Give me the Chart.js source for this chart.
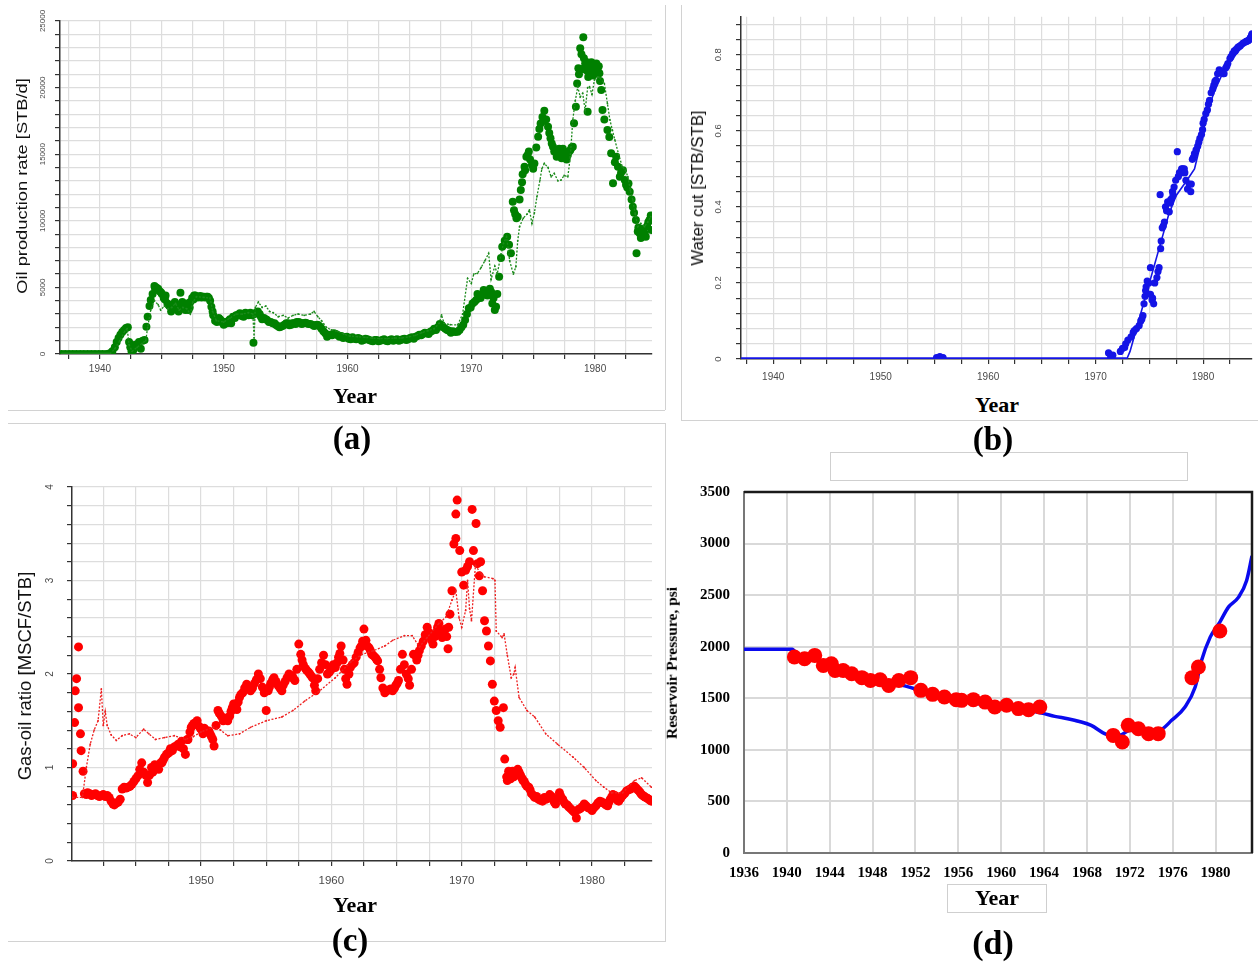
<!DOCTYPE html>
<html>
<head>
<meta charset="utf-8">
<title>Reservoir history: oil rate, water cut, GOR and pressure</title>
<script src="https://cdn.jsdelivr.net/npm/chart.js"></script>
<style>
  html, body { margin: 0; padding: 0; background: #fff; }
  #page { position: relative; width: 1260px; height: 963px; overflow: hidden; background: #fff; }
  .holder { position: absolute; }
  .holder canvas { display: block; }
  .t { position: absolute; white-space: nowrap; line-height: 1; transform: translate(-50%, -50%); }
  .sans { font-family: 'Liberation Sans', Arial, sans-serif; color: #111; }
  .serif { font-family: 'Liberation Serif', 'Times New Roman', serif; font-weight: bold; color: #000; }
  .rule { position: absolute; background: #d2d2d2; }
  .frame { position: absolute; border: 1px solid #cfcfcf; box-sizing: border-box; background: #fff; }
</style>
</head>
<body>
<div id="page">
  <div class="rule" style="left:8px;top:410px;width:657px;height:1px"></div>
  <div class="rule" style="left:665px;top:5px;width:1px;height:405px"></div>
  <div class="rule" style="left:681px;top:5px;width:1px;height:415px"></div>
  <div class="rule" style="left:681px;top:420px;width:577px;height:1px"></div>
  <div class="rule" style="left:8px;top:423px;width:657px;height:1px"></div>
  <div class="rule" style="left:665px;top:423px;width:1px;height:519px"></div>
  <div class="rule" style="left:8px;top:941px;width:657px;height:1px"></div>
  <div class="frame" style="left:830px;top:452px;width:358px;height:29px"></div>
  <div class="frame" style="left:947px;top:884px;width:100px;height:29px"></div>

  <div id="panelA" class="holder"></div>
  <div id="panelB" class="holder"></div>
  <div id="panelC" class="holder"></div>
  <div id="panelD" class="holder"></div>

  <div class="t sans" style="left:21px;top:186px;font-size:15px;transform:translate(-50%,-50%) rotate(-90deg) scaleX(1.22)">Oil production rate [STB/d]</div>
  <div class="t serif" style="left:355px;top:396px;font-size:22px">Year</div>
  <div class="t serif" style="left:352px;top:438px;font-size:33px">(a)</div>

  <div class="t sans" style="left:698px;top:188px;font-size:16px;transform:translate(-50%,-50%) rotate(-90deg) scaleX(1.05)">Water cut [STB/STB]</div>
  <div class="t serif" style="left:997px;top:405px;font-size:22px">Year</div>
  <div class="t serif" style="left:993px;top:439px;font-size:33px">(b)</div>

  <div class="t sans" style="left:25px;top:676px;font-size:18.5px;transform:translate(-50%,-50%) rotate(-90deg)">Gas-oil ratio [MSCF/STB]</div>
  <div class="t serif" style="left:355px;top:905px;font-size:22px">Year</div>
  <div class="t serif" style="left:350px;top:940px;font-size:33px">(c)</div>

  <div class="t serif" style="left:672px;top:663px;font-size:14.5px;transform:translate(-50%,-50%) rotate(-90deg) scaleX(1.07)">Reservoir Pressure, psi</div>
  <div class="t serif" style="left:997px;top:898px;font-size:22px">Year</div>
  <div class="t serif" style="left:993px;top:943px;font-size:34px">(d)</div>
</div>

<script>
// Oil production rate, STB/d: field observations [year, rate]
const oilObserved = [
  [1936.9,0],[1937.2,0],[1937.5,0],[1937.8,0],[1938.1,0],[1938.4,0],[1938.7,0],[1939.0,0],[1939.3,0],[1939.6,0],[1939.9,0],[1940.2,0],[1940.5,0],
  [1940.8,50],[1941.0,200],[1941.2,500],[1941.35,900],[1941.5,1200],[1941.65,1450],[1941.8,1650],[1941.95,1800],[1942.1,1950],[1942.25,2000],
  [1942.35,900],[1942.45,500],[1942.55,200],[1942.7,300],[1942.85,700],[1943.0,600],[1943.15,900],[1943.3,400],[1943.45,1000],[1943.6,1050],
  [1943.75,2050],[1943.85,2800],[1944.0,3600],[1944.1,4050],[1944.25,4500],[1944.4,5100],[1944.45,4900],[1944.55,5000],[1944.65,4800],
  [1944.7,4900],[1944.85,4700],[1944.95,4600],[1945.0,4500],[1945.15,4200],[1945.25,4100],[1945.3,4400],[1945.45,3800],[1945.55,3700],
  [1945.6,3600],[1945.75,3200],[1945.85,3400],[1945.9,3550],[1946.05,3900],[1946.15,3500],[1946.2,3700],[1946.35,3200],[1946.45,3600],
  [1946.5,4600],[1946.65,3900],[1946.75,3700],[1946.8,3500],[1946.9,3300],[1947.0,3800],[1947.1,3600],[1947.15,3300],[1947.25,3500],
  [1947.3,3900],[1947.45,4200],[1947.55,4100],[1947.6,4400],[1947.7,4400],[1947.8,4300],[1947.9,4250],[1948.0,4300],[1948.1,4350],
  [1948.2,4250],[1948.3,4300],[1948.4,4300],[1948.5,4250],[1948.6,4300],[1948.7,4300],[1948.8,4200],[1948.9,4000],[1949.0,3550],
  [1949.1,3200],[1949.15,2900],[1949.3,2500],[1949.45,2400],[1949.6,2700],[1949.7,2600],[1949.8,2500],[1949.9,2350],[1950.0,2200],
  [1950.1,2400],[1950.25,2300],[1950.4,2500],[1950.5,2600],[1950.6,2300],[1950.75,2800],[1950.9,2700],[1951.0,2900],[1951.15,2950],
  [1951.3,3050],[1951.45,2850],[1951.6,2800],[1951.75,3100],[1951.9,3000],[1952.0,2900],[1952.15,3100],[1952.3,2900],[1952.4,850],
  [1952.5,3000],[1952.6,3100],[1952.75,3200],[1952.9,3000],[1953.0,2800],[1953.1,2600],[1953.25,2700],[1953.4,2600],[1953.5,2550],
  [1953.65,2400],[1953.8,2400],[1953.95,2300],[1954.1,2300],[1954.2,2200],[1954.35,2100],[1954.5,2000],[1954.6,2050],[1954.75,2100],
  [1954.9,2200],[1955.05,2300],[1955.2,2300],[1955.3,2150],[1955.45,2200],[1955.55,2300],[1955.65,2300],[1955.8,2250],[1955.9,2400],
  [1956.05,2400],[1956.2,2350],[1956.3,2250],[1956.45,2300],[1956.6,2350],[1956.7,2300],[1956.85,2250],[1957.0,2250],[1957.15,2200],
  [1957.3,2100],[1957.4,2150],[1957.55,2200],[1957.65,2150],[1957.8,2050],[1957.9,1900],[1958.05,1700],[1958.2,1550],[1958.35,1300],
  [1958.6,1450],[1958.75,1400],[1958.9,1550],[1959.05,1500],[1959.2,1400],[1959.35,1300],[1959.5,1350],[1959.65,1200],[1959.8,1250],
  [1959.95,1300],[1960.1,1150],[1960.25,1100],[1960.4,1250],[1960.55,1150],[1960.7,1100],[1960.85,1200],[1961.0,1150],[1961.15,1000],
  [1961.3,1050],[1961.45,1150],[1961.6,1100],[1961.75,1050],[1961.9,1000],[1962.05,950],[1962.2,1050],[1962.35,1050],[1962.5,950],
  [1962.65,1000],[1962.8,1050],[1962.95,1100],[1963.1,1000],[1963.25,950],[1963.4,1050],[1963.55,1100],[1963.7,1000],[1963.85,1050],
  [1964.0,1100],[1964.15,1000],[1964.3,1050],[1964.45,1100],[1964.6,1150],[1964.75,1050],[1964.9,1100],[1965.05,1200],[1965.2,1250],
  [1965.35,1150],[1965.5,1300],[1965.65,1350],[1965.8,1450],[1965.95,1400],[1966.1,1500],[1966.25,1600],[1966.4,1550],[1966.55,1500],
  [1966.7,1670],[1966.85,1750],[1967.0,1900],[1967.15,1800],[1967.3,2000],[1967.45,2250],[1967.6,2180],[1967.75,2000],[1967.9,1900],
  [1968.05,1800],[1968.2,1750],[1968.35,1600],[1968.5,1700],[1968.7,1650],[1968.9,1670],[1969.05,1800],[1969.2,2000],[1969.35,2200],
  [1969.5,2550],[1969.65,3000],[1969.8,3430],[1969.95,3500],[1970.1,3800],[1970.25,3900],[1970.4,4050],[1970.5,4500],[1970.65,4300],
  [1970.75,4200],[1970.9,4430],[1971.0,4800],[1971.15,4600],[1971.3,4400],[1971.4,4700],[1971.5,4900],[1971.6,4680],[1971.7,3800],
  [1971.8,4200],[1971.9,3300],[1972.0,3550],[1972.1,4500],[1972.25,5800],[1972.4,7200],[1972.5,8050],[1972.7,8500],[1972.9,8800],
  [1973.05,8200],[1973.2,7560],[1973.35,11430],[1973.45,10800],[1973.55,10500],[1973.65,10200],[1973.75,10310],[1973.9,11600],
  [1974.0,12310],[1974.1,12900],[1974.15,13500],[1974.3,14060],[1974.35,13800],[1974.45,14800],[1974.55,14940],[1974.65,15200],
  [1974.75,14600],[1974.9,14200],[1975.0,13900],[1975.1,14310],[1975.25,15500],[1975.4,16310],[1975.5,16900],[1975.6,17300],
  [1975.75,17800],[1975.85,17500],[1975.9,18270],[1976.05,17600],[1976.2,17070],[1976.3,16600],[1976.4,16200],[1976.5,15800],
  [1976.6,15560],[1976.7,15200],[1976.8,15300],[1976.9,14800],[1977.0,15100],[1977.1,15400],[1977.2,15000],[1977.3,14700],
  [1977.4,15400],[1977.5,15000],[1977.6,15100],[1977.7,14600],[1977.8,14940],[1977.9,15200],[1978.0,15300],[1978.1,15500],
  [1978.2,15560],[1978.3,17320],[1978.45,18570],[1978.55,20300],[1978.65,21450],[1978.7,21000],[1978.8,22950],[1978.9,22500],
  [1978.95,21400],[1979.05,23780],[1979.1,22200],[1979.2,21800],[1979.3,21300],[1979.35,21900],[1979.4,18190],[1979.45,20800],
  [1979.5,21320],[1979.6,21600],[1979.7,21900],[1979.75,21200],[1979.85,20900],[1979.95,21570],[1980.0,21200],[1980.1,21800],
  [1980.2,21300],[1980.3,21600],[1980.35,21070],[1980.4,20500],[1980.5,19820],[1980.6,18320],[1980.75,17600],[1981.0,16820],
  [1981.15,16300],[1981.3,15070],[1981.45,12810],[1981.6,14400],[1981.7,14800],[1981.85,14060],[1982.0,13300],[1982.1,13600],
  [1982.25,13800],[1982.4,13060],[1982.5,12700],[1982.6,12500],[1982.7,12800],[1982.8,12190],[1982.95,11600],[1983.05,11060],
  [1983.15,10600],[1983.3,10060],[1983.35,7560],[1983.45,9200],[1983.5,9500],[1983.6,9060],[1983.7,8700],[1983.8,8800],[1983.9,9400],
  [1984.0,9060],[1984.1,8800],[1984.2,9600],[1984.3,9900],[1984.4,10060],[1984.5,10400],[1984.55,9300]
];

// Oil production rate, STB/d: model run [year, rate]
const oilSimulated = [
  [1936.9,0],[1940.8,0],[1941.2,400],[1941.6,1000],[1942.0,1700],[1942.2,1900],[1942.35,700],[1942.6,200],[1943.0,500],[1943.4,800],
  [1943.7,1000],[1943.85,2000],[1944.1,3300],[1944.4,4000],[1944.7,3700],[1944.9,3300],[1945.2,3600],[1945.5,3400],[1945.8,3500],
  [1946.1,3800],[1946.4,3300],[1946.7,3500],[1947.0,3400],[1947.3,3000],[1947.5,3900],[1947.8,4300],[1948.4,4250],[1948.9,4200],
  [1949.1,3200],[1949.4,2500],[1950.0,2400],[1950.5,2700],[1951.0,3000],[1951.5,3000],[1952.0,3100],[1952.35,3000],[1952.45,1200],
  [1952.55,3500],[1952.8,3900],[1953.1,3500],[1953.4,3600],[1953.7,3200],[1954.0,3100],[1954.4,2800],[1954.8,2900],[1955.2,2700],
  [1955.6,2900],[1956.0,3000],[1956.5,2900],[1957.0,3000],[1957.3,3200],[1957.6,2800],[1957.9,2500],[1958.3,2000],[1958.7,1800],
  [1959.2,1700],[1959.7,1500],[1960.2,1350],[1960.8,1300],[1961.4,1250],[1962.0,1200],[1962.6,1150],[1963.2,1150],[1963.8,1200],
  [1964.4,1200],[1965.0,1300],[1965.5,1400],[1966.0,1600],[1966.5,1750],[1967.0,1900],[1967.4,2300],[1967.6,2930],[1967.8,2300],
  [1968.3,2200],[1968.9,2180],[1969.3,3000],[1969.7,5680],[1970.0,5300],[1970.2,6000],[1970.5,6060],[1970.8,6500],[1971.1,7000],
  [1971.4,7560],[1971.6,5600],[1971.9,6600],[1972.1,6000],[1972.4,7500],[1972.6,8300],[1972.85,8800],[1973.1,7000],[1973.4,6000],
  [1973.6,6550],[1973.75,8500],[1973.9,9560],[1974.2,10200],[1974.5,10500],[1974.7,10810],[1974.9,9800],[1975.1,10600],[1975.3,11800],
  [1975.55,13060],[1975.7,13900],[1975.9,14310],[1976.2,14000],[1976.45,13300],[1976.7,13560],[1977.0,13000],[1977.25,13060],
  [1977.5,13400],[1977.8,13300],[1978.0,14800],[1978.2,17570],[1978.4,19000],[1978.6,20070],[1978.8,19300],[1979.0,19570],
  [1979.2,18300],[1979.4,20000],[1979.55,20070],[1979.75,19500],[1979.95,20570],[1980.3,20800],[1980.75,20320],[1981.0,18800],
  [1981.2,17570],[1981.4,16800],[1981.6,16070],[1981.9,15000],[1982.2,14060],[1982.45,13800],[1982.65,13310],[1982.85,12300],
  [1983.05,11560],[1983.25,10500],[1983.45,9560],[1983.7,9800],[1984.0,9560],[1984.25,9900],[1984.5,10310]
];

// Water cut, STB/STB: field observations [year, fraction]
const wcutObserved = [
  [1955.2,0.004],[1955.5,0.006],[1955.8,0.004],
  [1971.2,0.016],[1971.4,0.006],[1971.6,0.01],[1972.3,0.02],[1972.5,0.028],[1972.7,0.03],[1972.8,0.04],[1973.0,0.05],[1973.3,0.058],
  [1973.5,0.07],[1973.6,0.075],[1973.8,0.08],[1974.05,0.088],[1974.2,0.1],[1974.3,0.105],[1974.4,0.114],[1974.5,0.145],[1974.6,0.165],
  [1974.65,0.18],[1974.7,0.19],[1974.8,0.205],[1974.95,0.2],[1975.1,0.17],[1975.25,0.155],[1975.3,0.16],[1975.4,0.145],[1975.1,0.24],
  [1975.5,0.2],[1975.7,0.214],[1975.8,0.23],[1975.9,0.24],[1976.05,0.29],[1976.1,0.31],[1976.2,0.345],[1976.3,0.35],[1976.4,0.36],
  [1976.0,0.432],[1976.5,0.4],[1976.6,0.39],[1976.7,0.413],[1976.85,0.387],[1976.95,0.41],[1977.0,0.42],[1977.15,0.44],[1977.2,0.43],
  [1977.3,0.452],[1977.45,0.47],[1977.6,0.545],[1977.7,0.48],[1977.8,0.49],[1977.95,0.49],[1978.0,0.5],[1978.1,0.5],[1978.25,0.5],
  [1978.3,0.49],[1978.4,0.47],[1978.55,0.447],[1978.7,0.46],[1978.85,0.44],[1978.9,0.46],[1979.0,0.525],[1979.1,0.53],[1979.2,0.54],
  [1979.35,0.55],[1979.5,0.56],[1979.6,0.57],[1979.7,0.58],[1979.85,0.59],[1979.95,0.603],[1980.0,0.62],[1980.1,0.63],[1980.25,0.645],
  [1980.4,0.655],[1980.5,0.67],[1980.6,0.68],[1980.75,0.7],[1980.9,0.71],[1981.0,0.72],[1981.1,0.73],[1981.2,0.733],[1981.35,0.75],
  [1981.5,0.76],[1981.6,0.755],[1981.7,0.755],[1981.85,0.75],[1981.95,0.75],[1982.1,0.765],[1982.2,0.77],[1982.3,0.777],[1982.5,0.79],
  [1982.6,0.795],[1982.75,0.803],[1982.9,0.81],[1983.0,0.81],[1983.1,0.815],[1983.25,0.82],[1983.4,0.822],[1983.5,0.825],[1983.7,0.83],
  [1983.85,0.832],[1984.0,0.835],[1984.1,0.836],[1984.2,0.837],[1984.3,0.84],[1984.4,0.845],[1984.5,0.85],[1984.55,0.855]
];

// Water cut, STB/STB: model run [year, fraction]
const wcutSimulated = [
  [1937.0,0],[1972.9,0],[1973.2,0.02],[1974.0,0.1],[1975.0,0.2],[1976.0,0.3],[1976.8,0.38],[1977.5,0.43],[1978.5,0.47],
  [1979.2,0.5],[1979.8,0.57],[1980.3,0.64],[1981.0,0.7],[1981.8,0.75],[1982.5,0.78],[1983.3,0.81],[1984.0,0.83],[1984.5,0.845]
];

// Gas-oil ratio, MSCF/STB: field observations [year, ratio]
const gorObserved = [
  [1940.15,0.7],[1940.15,1.04],[1940.3,1.48],[1940.35,1.82],[1940.45,1.95],[1940.6,2.29],[1940.6,1.64],[1940.75,1.36],[1940.8,1.18],
  [1940.95,0.96],[1941.05,0.72],[1941.2,0.71],[1941.3,0.73],[1941.45,0.72],[1941.6,0.7],[1941.75,0.71],[1941.9,0.72],[1942.05,0.7],
  [1942.2,0.69],[1942.35,0.7],[1942.5,0.71],[1942.65,0.69],[1942.8,0.7],[1942.95,0.68],[1943.1,0.64],[1943.25,0.61],[1943.35,0.6],
  [1943.5,0.62],[1943.65,0.63],[1943.8,0.66],[1943.95,0.77],[1944.1,0.79],[1944.25,0.78],[1944.4,0.79],[1944.55,0.8],[1944.7,0.82],
  [1944.85,0.85],[1945.0,0.88],[1945.15,0.91],[1945.3,0.98],[1945.45,1.05],[1945.6,0.95],[1945.75,0.92],[1945.9,0.84],[1946.05,0.92],
  [1946.2,1.0],[1946.3,0.95],[1946.45,1.03],[1946.6,1.02],[1946.75,0.98],[1946.9,1.05],[1947.0,1.05],[1947.1,1.08],[1947.2,1.11],
  [1947.35,1.14],[1947.45,1.15],[1947.55,1.16],[1947.65,1.2],[1947.8,1.18],[1947.95,1.22],[1948.1,1.23],[1948.25,1.25],[1948.4,1.22],
  [1948.5,1.28],[1948.65,1.2],[1948.8,1.14],[1948.95,1.3],[1949.0,1.3],[1949.15,1.38],[1949.25,1.43],[1949.35,1.45],[1949.45,1.47],
  [1949.6,1.48],[1949.7,1.5],[1949.85,1.44],[1949.95,1.42],[1950.05,1.4],[1950.15,1.36],[1950.25,1.42],[1950.35,1.4],[1950.5,1.38],
  [1950.6,1.39],[1950.7,1.36],[1950.8,1.33],[1950.9,1.3],[1951.0,1.23],[1951.15,1.45],[1951.3,1.61],[1951.4,1.58],[1951.55,1.55],
  [1951.7,1.5],[1951.8,1.52],[1951.95,1.53],[1952.05,1.5],[1952.2,1.55],[1952.3,1.6],[1952.4,1.64],[1952.5,1.68],[1952.65,1.66],
  [1952.75,1.62],[1952.85,1.7],[1952.95,1.75],[1953.05,1.78],[1953.2,1.8],[1953.35,1.85],[1953.5,1.89],[1953.65,1.86],[1953.8,1.82],
  [1953.95,1.85],[1954.1,1.9],[1954.25,1.94],[1954.4,2.0],[1954.55,1.95],[1954.7,1.86],[1954.85,1.8],[1955.0,1.61],[1955.15,1.82],
  [1955.25,1.86],[1955.35,1.9],[1955.5,1.94],[1955.6,1.96],[1955.75,1.92],[1955.9,1.88],[1956.05,1.85],[1956.2,1.82],[1956.3,1.88],
  [1956.45,1.92],[1956.6,1.96],[1956.75,2.0],[1956.9,1.98],[1957.0,1.98],[1957.1,1.95],[1957.2,1.93],[1957.35,2.05],[1957.5,2.32],
  [1957.65,2.21],[1957.75,2.15],[1957.85,2.1],[1958.0,2.06],[1958.1,2.04],[1958.25,2.02],[1958.35,2.0],[1958.45,1.98],[1958.55,1.96],
  [1958.7,1.88],[1958.8,1.82],[1958.95,1.95],[1959.1,2.05],[1959.25,2.12],[1959.4,2.2],[1959.55,2.1],[1959.7,2.0],[1959.85,2.02],
  [1960.0,2.05],[1960.15,2.1],[1960.3,2.07],[1960.45,2.12],[1960.55,2.18],[1960.65,2.22],[1960.75,2.3],[1960.9,2.15],[1961.0,2.05],
  [1961.1,1.95],[1961.2,1.89],[1961.35,2.0],[1961.45,2.07],[1961.6,2.1],[1961.75,2.12],[1961.9,2.18],[1962.05,2.23],[1962.2,2.28],
  [1962.3,2.3],[1962.4,2.35],[1962.5,2.48],[1962.65,2.36],[1962.75,2.3],[1962.9,2.28],[1963.0,2.25],[1963.1,2.21],[1963.2,2.2],
  [1963.35,2.18],[1963.45,2.16],[1963.55,2.14],[1963.7,2.05],[1963.8,1.96],[1963.95,1.85],[1964.1,1.8],[1964.25,1.82],[1964.4,1.83],
  [1964.55,1.84],[1964.7,1.82],[1964.85,1.85],[1964.95,1.88],[1965.05,1.9],[1965.15,1.93],[1965.3,2.05],[1965.45,2.21],[1965.6,2.1],
  [1965.75,2.0],[1965.9,1.95],[1966.0,1.88],[1966.15,2.05],[1966.3,2.21],[1966.45,2.2],[1966.55,2.15],[1966.65,2.2],[1966.75,2.25],
  [1966.9,2.3],[1967.05,2.35],[1967.2,2.42],[1967.35,2.5],[1967.45,2.45],[1967.55,2.4],[1967.7,2.36],[1967.8,2.32],[1967.95,2.4],
  [1968.05,2.45],[1968.15,2.5],[1968.25,2.54],[1968.4,2.45],[1968.5,2.39],[1968.6,2.43],[1968.75,2.48],[1968.85,2.4],[1968.95,2.27],
  [1969.0,2.5],[1969.1,2.64],[1969.25,2.89],[1969.4,3.39],[1969.55,3.45],[1969.55,3.71],[1969.65,3.86],[1969.85,3.32],[1970.0,3.09],
  [1970.15,2.95],[1970.3,3.11],[1970.45,3.15],[1970.6,3.2],[1970.8,3.76],[1970.9,3.32],[1971.1,3.61],[1971.2,3.18],[1971.35,3.05],
  [1971.45,3.2],[1971.6,2.89],[1971.75,2.57],[1971.9,2.46],[1972.05,2.3],[1972.2,2.14],[1972.35,1.89],[1972.5,1.71],[1972.65,1.61],
  [1972.8,1.5],[1972.95,1.43],[1973.2,1.64],[1973.3,1.09],[1973.45,0.9],[1973.5,0.86],[1973.6,0.96],[1973.65,0.92],[1973.75,0.88],
  [1973.8,0.93],[1973.9,0.96],[1974.0,0.9],[1974.1,0.93],[1974.2,0.96],[1974.3,0.98],[1974.4,0.95],[1974.5,0.92],[1974.55,0.9],
  [1974.65,0.88],[1974.7,0.86],[1974.8,0.85],[1974.9,0.82],[1975.0,0.8],[1975.15,0.79],[1975.25,0.76],[1975.35,0.72],[1975.5,0.7],
  [1975.6,0.68],[1975.75,0.69],[1975.9,0.66],[1976.05,0.65],[1976.2,0.64],[1976.35,0.68],[1976.45,0.66],[1976.6,0.67],[1976.75,0.71],
  [1976.9,0.69],[1977.0,0.66],[1977.1,0.63],[1977.2,0.61],[1977.35,0.67],[1977.5,0.73],[1977.6,0.69],[1977.75,0.66],[1977.85,0.63],
  [1977.95,0.61],[1978.1,0.6],[1978.2,0.58],[1978.35,0.56],[1978.5,0.54],[1978.65,0.52],[1978.8,0.46],[1978.95,0.55],[1979.1,0.56],
  [1979.25,0.58],[1979.4,0.61],[1979.55,0.59],[1979.7,0.57],[1979.85,0.56],[1980.0,0.54],[1980.15,0.57],[1980.3,0.59],[1980.45,0.62],
  [1980.6,0.64],[1980.75,0.63],[1980.9,0.62],[1981.05,0.6],[1981.2,0.59],[1981.3,0.63],[1981.4,0.66],[1981.5,0.68],[1981.6,0.71],
  [1981.75,0.7],[1981.85,0.67],[1981.95,0.65],[1982.05,0.64],[1982.2,0.67],[1982.35,0.7],[1982.5,0.72],[1982.65,0.75],[1982.8,0.76],
  [1982.95,0.77],[1983.1,0.79],[1983.25,0.8],[1983.4,0.78],[1983.5,0.76],[1983.6,0.75],[1983.7,0.73],[1983.8,0.71],[1983.9,0.7],
  [1984.0,0.69],[1984.1,0.68],[1984.25,0.67],[1984.35,0.66],[1984.45,0.65],[1984.55,0.64]
];

// Gas-oil ratio, MSCF/STB: model run [year, ratio]
const gorSimulated = [
  [1940.15,0.68],[1940.9,0.68],[1941.2,1.0],[1941.5,1.25],[1941.8,1.4],[1942.1,1.5],[1942.35,1.84],[1942.5,1.45],[1942.65,1.6],
  [1942.8,1.45],[1943.1,1.35],[1943.5,1.29],[1943.95,1.34],[1944.5,1.36],[1945.0,1.32],[1945.6,1.41],[1946.0,1.36],[1946.5,1.3],
  [1947.2,1.32],[1947.95,1.34],[1948.8,1.3],[1949.4,1.33],[1950.0,1.38],[1950.9,1.43],[1951.5,1.4],[1952.05,1.34],[1952.95,1.36],
  [1953.8,1.43],[1955.0,1.5],[1956.2,1.54],[1957.05,1.61],[1957.95,1.71],[1959.1,1.82],[1960.3,1.96],[1961.5,2.13],[1962.35,2.21],
  [1963.25,2.25],[1964.1,2.3],[1964.7,2.36],[1965.6,2.41],[1966.2,2.41],[1966.75,2.29],[1967.35,2.39],[1968.25,2.54],[1968.8,2.61],
  [1969.25,2.79],[1969.55,2.89],[1969.8,2.6],[1970.0,2.5],[1970.3,2.68],[1970.45,3.0],[1970.6,2.7],[1970.75,2.57],[1971.05,3.16],
  [1971.5,3.07],[1971.75,3.04],[1972.4,3.02],[1972.55,3.0],[1972.65,2.46],[1973.1,2.39],[1973.25,2.43],[1973.5,2.2],[1973.8,1.96],
  [1974.0,2.0],[1974.1,2.07],[1974.4,1.75],[1975.0,1.61],[1975.6,1.54],[1976.45,1.36],[1977.35,1.25],[1978.55,1.11],[1979.4,1.0],
  [1980.3,0.86],[1980.9,0.79],[1981.5,0.73],[1982.35,0.73],[1983.25,0.86],[1983.8,0.89],[1984.55,0.79]
];

// Reservoir pressure, psi: measured points [year, psi]
const pressureObserved = [
  [1940.7,1900],[1941.65,1884],[1942.6,1916],[1943.4,1819],[1944.15,1835],[1944.5,1770],[1945.25,1770],[1946.05,1738],[1947.0,1700],
  [1947.8,1673],[1948.7,1680],[1949.5,1625],[1950.45,1673],[1951.55,1700],[1952.5,1577],[1953.6,1538],[1954.7,1512],[1955.8,1487],
  [1956.3,1480],[1957.4,1487],[1958.5,1463],[1959.4,1415],[1960.5,1432],[1961.6,1400],[1962.55,1390],[1963.6,1415],
  [1970.45,1140],[1971.3,1076],[1971.85,1238],[1972.8,1205],[1973.75,1157],[1974.65,1157],
  [1977.8,1700],[1978.4,1803],[1980.4,2152]
];

// Reservoir pressure, psi: model run [year, psi]
const pressureSimulated = [
  [1936.0,1975],[1940.5,1975],[1941.0,1920],[1942.0,1890],[1943.0,1870],[1944.0,1810],[1945.0,1775],[1946.0,1745],[1947.0,1710],
  [1948.0,1680],[1949.0,1650],[1950.0,1640],[1951.0,1620],[1952.0,1590],[1953.0,1550],[1954.0,1520],[1955.0,1495],[1956.0,1475],
  [1957.0,1460],[1958.0,1445],[1959.0,1430],[1960.0,1415],[1961.0,1400],[1962.0,1390],[1963.0,1375],[1964.0,1351],[1965.0,1325],
  [1966.2,1302],[1967.3,1275],[1968.4,1237],[1969.65,1157],[1970.5,1130],[1971.3,1150],[1972.0,1190],[1973.0,1180],[1974.0,1165],
  [1975.0,1200],[1975.9,1286],[1977.15,1415],[1978.1,1609],[1978.7,1868],[1979.5,2093],[1980.4,2239],[1981.2,2384],[1982.15,2481],
  [1982.9,2643],[1983.4,2880]
];

const xy = rows => rows.map(([x, y]) => ({ x, y }));
const SANS = "'Liberation Sans', Arial, sans-serif";
const SERIF = "'Liberation Serif', 'Times New Roman', serif";
const isMultiple = (v, step) => Math.abs(v / step - Math.round(v / step)) < 1e-6;

// simulator-style axes: light grid, dark axis line with outside tick marks
function yearAxis(min, max, fontSize, pad, height) {
  return {
    type: 'linear', position: 'bottom', min, max,
    afterFit: s => { s.height = height; },
    grid: { color: '#dddddd', lineWidth: 1.2, tickColor: '#333', tickLength: 5, tickWidth: 1.2 },
    border: { color: '#333', width: 1.5 },
    ticks: {
      stepSize: 2.5, includeBounds: false, autoSkip: false, maxRotation: 0, minRotation: 0,
      padding: pad, color: '#4a4a4a', font: { family: SANS, size: fontSize },
      callback: v => isMultiple(v, 10) ? String(Math.round(v)) : ''
    }
  };
}
function valueAxis(max, step, labelStep, fmt, fontSize, pad, width) {
  return {
    type: 'linear', position: 'left', min: 0, max,
    afterFit: s => { s.width = width; },
    grid: { color: '#dddddd', lineWidth: 1.2, tickColor: '#333', tickLength: 5, tickWidth: 1.2 },
    border: { color: '#333', width: 1.5 },
    ticks: {
      stepSize: step, includeBounds: false, autoSkip: false, minRotation: 90, maxRotation: 90,
      crossAlign: 'center', padding: pad, color: '#4a4a4a', font: { family: SANS, size: fontSize },
      callback: v => isMultiple(v, labelStep) ? fmt(Math.round(v / labelStep) * labelStep) : ''
    }
  };
}

function panel(id, geo, datasets, scales, plugins) {
  const holder = document.getElementById(id);
  Object.assign(holder.style, { left: geo.left + 'px', top: geo.top + 'px', width: geo.width + 'px', height: geo.height + 'px' });
  const canvas = document.createElement('canvas');
  canvas.width = geo.width;
  canvas.height = geo.height;
  holder.appendChild(canvas);
  return new Chart(canvas, {
    type: 'scatter',
    data: { datasets },
    options: {
      responsive: false, animation: false, devicePixelRatio: 1,
      layout: { padding: { top: geo.padTop, right: geo.padRight, left: 0, bottom: 0 } },
      plugins: { legend: { display: false }, tooltip: { enabled: false } },
      scales
    },
    plugins: plugins || []
  });
}

const flatAtZero = ctx => ctx.p0.parsed.y === 0 && ctx.p1.parsed.y === 0;

// (a) oil production rate
panel('panelA', { left: 0, top: 0, width: 665, height: 385, padTop: 21, padRight: 13 }, [
  {
    label: 'Simulated', data: xy(oilSimulated), showLine: true, order: 0,
    borderColor: '#1b8a1b', borderWidth: 1.3, borderDash: [2, 1.6],
    pointRadius: 0.9, pointBackgroundColor: '#1b8a1b', pointBorderWidth: 0,
    segment: { borderWidth: c => flatAtZero(c) ? 3 : 1.3, borderDash: c => flatAtZero(c) ? [] : [2, 1.6] }
  },
  {
    label: 'Observed', data: xy(oilObserved), showLine: false, order: 1,
    pointRadius: 4, pointBackgroundColor: '#008000', pointBorderWidth: 0
  }
], {
  x: yearAxis(1936.77, 1984.6, 10, 4, 31),
  y: valueAxis(25000, 1000, 5000, v => String(v), 8, 1.5, 60)
});

// (b) water cut
panel('panelB', { left: 681, top: 0, width: 577, height: 390, padTop: 13, padRight: 6 }, [
  {
    label: 'Simulated', data: xy(wcutSimulated), showLine: true, order: 0,
    borderColor: '#1414e6', borderWidth: 1.6, pointRadius: 0,
    segment: { borderWidth: c => flatAtZero(c) ? 3.5 : 1.6 }
  },
  {
    label: 'Observed', data: xy(wcutObserved), showLine: false, order: 1,
    pointRadius: 3.6, pointBackgroundColor: '#1414e6', pointBorderWidth: 0
  }
], {
  x: yearAxis(1937.0, 1984.55, 10, 7, 31),
  y: valueAxis(0.9, 0.04, 0.2, v => v === 0 ? '0' : v.toFixed(1), 9.5, 11, 60)
});

// (c) gas-oil ratio
panel('panelC', { left: 8, top: 423, width: 657, height: 490, padTop: 64, padRight: 13 }, [
  {
    label: 'Simulated', data: xy(gorSimulated), showLine: true, order: 0,
    borderColor: '#ee2020', borderWidth: 1.3, borderDash: [2, 1.6],
    pointRadius: 0.9, pointBackgroundColor: '#ee2020', pointBorderWidth: 0
  },
  {
    label: 'Observed', data: xy(gorObserved), showLine: false, order: 1,
    pointRadius: 4.5, pointBackgroundColor: '#ff0000', pointBorderWidth: 0
  }
], {
  x: yearAxis(1940.1, 1984.6, 11.5, 8, 52),
  y: valueAxis(4, 0.2, 1, v => String(v), 10, 14, 64)
});

// (d) reservoir pressure: boxed plot area
const boxOutline = {
  id: 'boxOutline',
  afterDraw(chart) {
    const { ctx, chartArea: a } = chart;
    ctx.save();
    ctx.strokeStyle = '#1a1a1a';
    ctx.lineWidth = 2.5;
    ctx.beginPath();
    ctx.moveTo(a.left, a.top);
    ctx.lineTo(a.right, a.top);
    ctx.lineTo(a.right, a.bottom);
    ctx.stroke();
    ctx.restore();
  }
};
panel('panelD', { left: 665, top: 440, width: 595, height: 460, padTop: 52, padRight: 8 }, [
  {
    label: 'Measured', data: xy(pressureObserved), showLine: false, order: 0,
    pointRadius: 7.5, pointBackgroundColor: '#ff0000', pointBorderWidth: 0
  },
  {
    label: 'Model', data: xy(pressureSimulated), showLine: true, order: 1,
    borderColor: '#0a0aee', borderWidth: 3.5, pointRadius: 0, cubicInterpolationMode: 'monotone'
  }
], {
  x: {
    type: 'linear', min: 1936, max: 1983.4,
    afterFit: s => { s.height = 47; },
    grid: { color: '#d9d9d9', lineWidth: 2, drawTicks: false },
    border: { color: '#777', width: 2 },
    ticks: {
      stepSize: 4, includeBounds: false, autoSkip: false, maxRotation: 0, padding: 11,
      color: '#000', font: { family: SERIF, size: 15, weight: 'bold' },
      callback: v => String(Math.round(v))
    }
  },
  y: {
    type: 'linear', min: 0, max: 3500,
    afterFit: s => { s.width = 79; },
    grid: { color: '#d9d9d9', lineWidth: 2, drawTicks: false },
    border: { color: '#777', width: 2 },
    ticks: {
      stepSize: 500, autoSkip: false, padding: 14,
      color: '#000', font: { family: SERIF, size: 15, weight: 'bold' },
      callback: v => String(v)
    }
  }
}, [boxOutline]);
</script>
</body>
</html>
